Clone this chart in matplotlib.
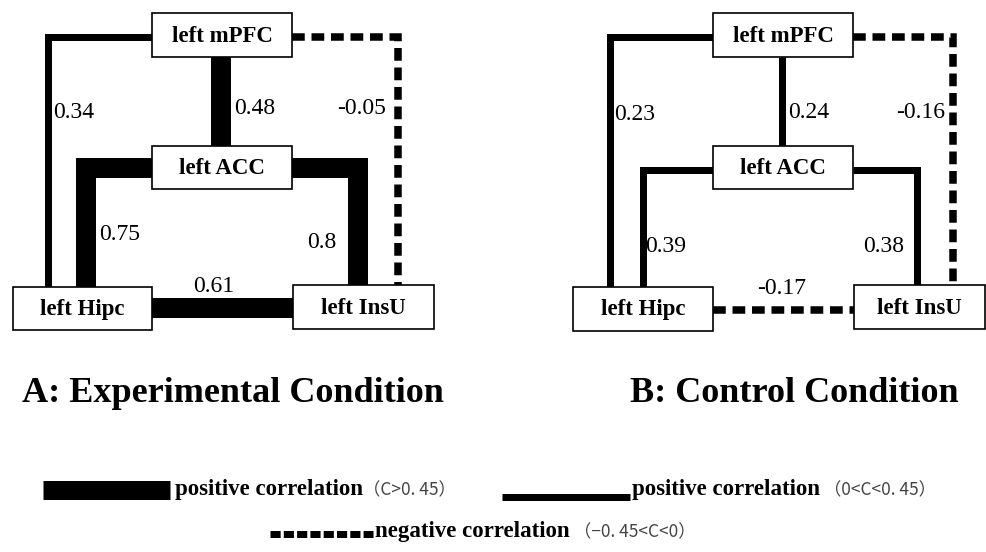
import matplotlib.pyplot as plt

# correlation values for each connection (same edge order in both panels)
edges = [("mPFC", "Hipc"), ("mPFC", "ACC"), ("mPFC", "InsU"),
         ("ACC", "Hipc"), ("ACC", "InsU"), ("Hipc", "InsU")]
exp_values = [0.34, 0.48, -0.05, 0.75, 0.8, 0.61]
ctrl_values = [0.23, 0.24, -0.16, 0.39, 0.38, -0.17]
node_names = ["mPFC", "ACC", "Hipc", "InsU"]
panel_titles = ["A: Experimental Condition", "B: Control Condition"]
legend_labels = ["positive correlation", "positive correlation", "negative correlation"]
legend_ranges = ["（C>0. 45）", " （0<C<0. 45）", " （−0. 45<C<0）"]
legend_kinds = [0.6, 0.3, -0.3]  # sample value standing for each class

PX = 72 / 100  # pixel -> points

# layout in pixel coordinates (x0, y0, x1, y1)
boxes = [
    {"mPFC": (152, 13, 292, 57), "ACC": (152, 146, 292, 189),
     "Hipc": (13, 287, 152, 330), "InsU": (293, 285, 434, 329)},
    {"mPFC": (713, 13, 853, 57), "ACC": (713, 146, 853, 189),
     "Hipc": (573, 287, 713, 331), "InsU": (854, 285, 985, 329)},
]
routes = [
    dict(y_top=37, xl_out=48, x_mid=221, xr_out=398, y_acc=168,
         xl_in=86, xr_in=358, y_bot=308),
    dict(y_top=37, xl_out=610, x_mid=782, xr_out=953, y_acc=170,
         xl_in=643, xr_in=917, y_bot=310),
]
label_pos = [
    [(53, 112, "left"), (234, 108, "left"), (337, 108, "left"),
     (99, 235, "left"), (307, 243, "left"), (214, 287, "center")],
    [(614, 115, "left"), (788, 112, "left"), (896, 112, "left"),
     (645, 247, "left"), (863, 247, "left"), (782, 288, "center")],
]
title_pos = [(22, 394), (630, 394)]


def edge_style(v):
    if v > 0.45:
        return dict(lw=20 * PX, ls="-")
    if v > 0:
        return dict(lw=7 * PX, ls="-")
    return dict(lw=7.5 * PX, ls=(0, (1.7, 0.9)))


def route(b, r, a, c):
    if (a, c) == ("mPFC", "Hipc"):
        return [b["mPFC"][0], r["xl_out"], r["xl_out"]], [r["y_top"], r["y_top"], b["Hipc"][1]]
    if (a, c) == ("mPFC", "ACC"):
        return [r["x_mid"], r["x_mid"]], [b["mPFC"][3], b["ACC"][1]]
    if (a, c) == ("mPFC", "InsU"):
        return [b["mPFC"][2], r["xr_out"], r["xr_out"]], [r["y_top"], r["y_top"], b["InsU"][1]]
    if (a, c) == ("ACC", "Hipc"):
        return [b["ACC"][0], r["xl_in"], r["xl_in"]], [r["y_acc"], r["y_acc"], b["Hipc"][1]]
    if (a, c) == ("ACC", "InsU"):
        return [b["ACC"][2], r["xr_in"], r["xr_in"]], [r["y_acc"], r["y_acc"], b["InsU"][1]]
    return [b["Hipc"][2], b["InsU"][0]], [r["y_bot"], r["y_bot"]]


fig = plt.figure(figsize=(9.86, 5.52), dpi=100)
ax = fig.add_axes([0, 0, 1, 1])
ax.set_xlim(0, 986)
ax.set_ylim(552, 0)
ax.axis("off")

serif = "Liberation Serif"

for p, vals in enumerate([exp_values, ctrl_values]):
    b, r = boxes[p], routes[p]
    for (a, c), v, (lx, ly, ha) in zip(edges, vals, label_pos[p]):
        xs, ys = route(b, r, a, c)
        st = edge_style(v)
        ax.plot(xs, ys, color="black", lw=st["lw"], ls=st["ls"],
                solid_joinstyle="miter", solid_capstyle="butt",
                dash_capstyle="butt", dash_joinstyle="miter", zorder=1)
        ax.text(lx, ly, f"{v:g}", ha=ha, va="center", fontsize=17,
                family=serif, zorder=3)
    for n in node_names:
        x0, y0, x1, y1 = b[n]
        ax.add_patch(plt.Rectangle((x0, y0), x1 - x0, y1 - y0, facecolor="white",
                                   edgecolor="black", lw=1.2, zorder=2))
        ax.text((x0 + x1) / 2, (y0 + y1) / 2 + 1, f"left {n}", ha="center", va="center",
                fontsize=16.5, fontweight="bold", family=serif, zorder=3)
    tx, ty = title_pos[p]
    ax.text(tx, ty, panel_titles[p], ha="left", va="center", fontsize=26,
            fontweight="bold", family=serif)

# legend swatches
swatch_x = [(43, 170), (502, 630), (270, 373)]
swatch_y = [490, 497, 534]
text_pos = [(175, 490), (632, 490), (375, 532)]
for (x0, x1), y, v, (tx, ty), lab, rng in zip(swatch_x, swatch_y, legend_kinds,
                                              text_pos, legend_labels, legend_ranges):
    if v > 0.45:
        lw, ls = 19 * PX, "-"
    elif v > 0:
        lw, ls = 7 * PX, "-"
    else:
        lw, ls = 7 * PX, (0, (1.45, 0.45))
    ax.plot([x0, x1], [y, y], color="black", lw=lw, ls=ls, solid_capstyle="butt",
            dash_capstyle="butt")
    t = ax.text(tx, ty, lab, ha="left", va="center", fontsize=16.5,
                fontweight="bold", family=serif)
    ax.annotate(rng, xy=(1, 0.5), xycoords=t, ha="left", va="center",
                fontsize=12.5, color="#444444", fontweight="light",
                family=["Noto Sans CJK SC", "DejaVu Sans"])

fig.savefig("out.png", dpi=100)
